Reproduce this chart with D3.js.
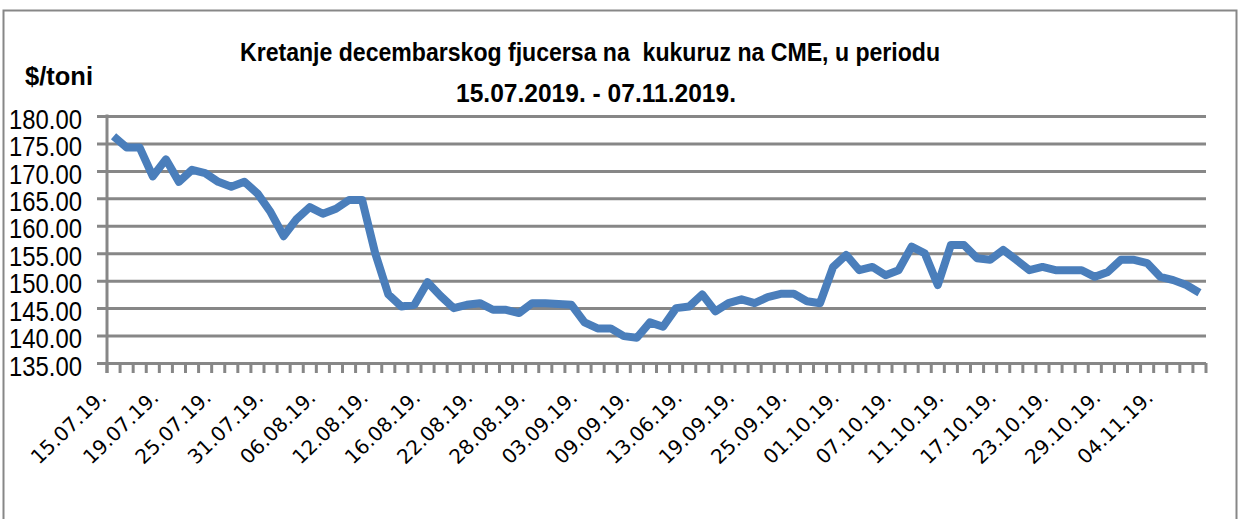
<!DOCTYPE html>
<html>
<head>
<meta charset="utf-8">
<script src="https://cdn.jsdelivr.net/npm/d3@7"></script>
<style>
  html, body { margin: 0; padding: 0; background: #fff; }
  svg { display: block; }
</style>
</head>
<body>
<svg id="chart"></svg>
<script>
const width = 1241;
const height = 519;
const margin = { top: 116, right: 35, bottom: 156, left: 107 };

// trading days (label for 13.09 is written as in the original: 13.06.19.)
const dates = [
  "15.07.19.", "16.07.19.", "17.07.19.", "18.07.19.", "19.07.19.", "22.07.19.", "23.07.19.", "24.07.19.",
  "25.07.19.", "26.07.19.", "29.07.19.", "30.07.19.", "31.07.19.", "01.08.19.", "02.08.19.", "05.08.19.",
  "06.08.19.", "07.08.19.", "08.08.19.", "09.08.19.", "12.08.19.", "13.08.19.", "14.08.19.", "15.08.19.",
  "16.08.19.", "19.08.19.", "20.08.19.", "21.08.19.", "22.08.19.", "23.08.19.", "26.08.19.", "27.08.19.",
  "28.08.19.", "29.08.19.", "30.08.19.", "02.09.19.", "03.09.19.", "04.09.19.", "05.09.19.", "06.09.19.",
  "09.09.19.", "10.09.19.", "11.09.19.", "12.09.19.", "13.06.19.", "16.09.19.", "17.09.19.", "18.09.19.",
  "19.09.19.", "20.09.19.", "23.09.19.", "24.09.19.", "25.09.19.", "26.09.19.", "27.09.19.", "30.09.19.",
  "01.10.19.", "02.10.19.", "03.10.19.", "04.10.19.", "07.10.19.", "08.10.19.", "09.10.19.", "10.10.19.",
  "11.10.19.", "14.10.19.", "15.10.19.", "16.10.19.", "17.10.19.", "18.10.19.", "21.10.19.", "22.10.19.",
  "23.10.19.", "24.10.19.", "25.10.19.", "28.10.19.", "29.10.19.", "30.10.19.", "31.10.19.", "01.11.19.",
  "04.11.19.", "05.11.19.", "06.11.19.", "07.11.19."
];

// $/toni
const prices = [
  176.3, 174.25, 174.25, 169.0, 172.1, 168.0, 170.2, 169.6,
  168.0, 167.1, 168.0, 165.9, 162.5, 158.1, 161.25, 163.4,
  162.2, 163.1, 164.7, 164.7, 155.0, 147.5, 145.3, 145.6,
  149.7, 147.2, 145.0, 145.6, 145.9, 144.7, 144.7, 144.1,
  145.9, 145.9, 145.75, 145.6, 142.4, 141.3, 141.3, 139.9,
  139.6, 142.4, 141.6, 145.0, 145.3, 147.5, 144.4, 145.9,
  146.6, 145.9, 147.0, 147.6, 147.6, 146.25, 145.9, 152.5,
  154.7, 151.9, 152.5, 151.0, 151.9, 156.2, 155.0, 149.2,
  156.5, 156.5, 154.1, 153.8, 155.6, 153.8, 151.9, 152.5,
  151.9, 151.9, 151.9, 150.7, 151.6, 153.8, 153.8, 153.2,
  150.7, 150.1, 149.2, 147.8
];

const yTicks = [135, 140, 145, 150, 155, 160, 165, 170, 175, 180];
const labelEvery = 4;

const titleLines = ["Kretanje decembarskog fjucersa na  kukuruz na CME, u periodu", "15.07.2019. - 07.11.2019."];
const unitLabel = "$/toni";

const gridColor = "#878787";
const lineColor = "#4a7ebb";
const narrow = "'Liberation Sans Narrow', 'Liberation Sans', Arial, sans-serif";

const svg = d3.select("#chart")
    .attr("width", width)
    .attr("height", height);

// outer chart frame
svg.append("rect")
    .attr("x", 3.5)
    .attr("y", 10.5)
    .attr("width", 1233)
    .attr("height", 530)
    .attr("fill", "#fff")
    .attr("stroke", gridColor)
    .attr("stroke-width", 2);

const x = d3.scaleBand()
    .domain(dates)
    .range([margin.left, width - margin.right])
    .padding(0);

const y = d3.scaleLinear()
    .domain([135, 180])
    .range([height - margin.bottom, margin.top]);

// y axis with gridlines
const yAxis = svg.append("g")
    .attr("transform", `translate(${margin.left - 10},0)`)
    .call(d3.axisLeft(y)
        .tickValues(yTicks)
        .tickSize(-(width - margin.right - margin.left + 10))
        .tickPadding(15)
        .tickFormat(d3.format(".2f")));

yAxis.select(".domain").remove();
yAxis.selectAll(".tick line")
    .attr("stroke", gridColor)
    .attr("stroke-width", 3);
yAxis.selectAll(".tick text")
    .attr("dy", "0.45em")
    .attr("fill", "#000")
    .style("font-family", narrow)
    .style("font-size", "27px")
    .attr("textLength", 73)
    .attr("lengthAdjust", "spacingAndGlyphs");

// vertical axis line
svg.append("line")
    .attr("x1", margin.left).attr("x2", margin.left)
    .attr("y1", y(180) - 1.5).attr("y2", y(135) + 10)
    .attr("stroke", gridColor)
    .attr("stroke-width", 3);

// x axis ticks at category boundaries
const bounds = dates.map(d => x(d)).concat([x.range()[1]]);
svg.append("g")
    .selectAll("line")
    .data(bounds)
    .join("line")
    .attr("x1", d => d).attr("x2", d => d)
    .attr("y1", y(135)).attr("y2", y(135) + 10)
    .attr("stroke", gridColor)
    .attr("stroke-width", 3);

// x labels, every 4th day
svg.append("g")
    .selectAll("text")
    .data(dates.filter((d, i) => i % labelEvery === 0))
    .join("text")
    .attr("transform", d => `translate(${x(d) + x.bandwidth() / 2 - 6},${y(135) + 36}) rotate(-44)`)
    .attr("text-anchor", "end")
    .style("font-family", "'DejaVu Sans', Verdana, sans-serif")
    .style("font-size", "20px")
    .attr("fill", "#000")
    .text(d => d);

// the price line
const line = d3.line()
    .x((d, i) => x(dates[i]) + x.bandwidth() / 2)
    .y(d => y(d));

svg.append("path")
    .datum(prices)
    .attr("fill", "none")
    .attr("stroke", lineColor)
    .attr("stroke-width", 8)
    .attr("stroke-linejoin", "round")
    .attr("d", line);

// title
svg.append("text")
    .attr("x", 240).attr("y", 61)
    .attr("xml:space", "preserve")
    .style("white-space", "pre")
    .style("font-family", narrow)
    .style("font-weight", "bold")
    .style("font-size", "25px")
    .attr("textLength", 700)
    .attr("lengthAdjust", "spacingAndGlyphs")
    .text(titleLines[0]);

svg.append("text")
    .attr("x", 456).attr("y", 102)
    .style("font-family", narrow)
    .style("font-weight", "bold")
    .style("font-size", "25px")
    .attr("textLength", 280)
    .attr("lengthAdjust", "spacingAndGlyphs")
    .text(titleLines[1]);

svg.append("text")
    .attr("x", 25).attr("y", 85)
    .style("font-family", narrow)
    .style("font-weight", "bold")
    .style("font-size", "26px")
    .attr("textLength", 68)
    .attr("lengthAdjust", "spacingAndGlyphs")
    .text(unitLabel);
</script>
</body>
</html>
